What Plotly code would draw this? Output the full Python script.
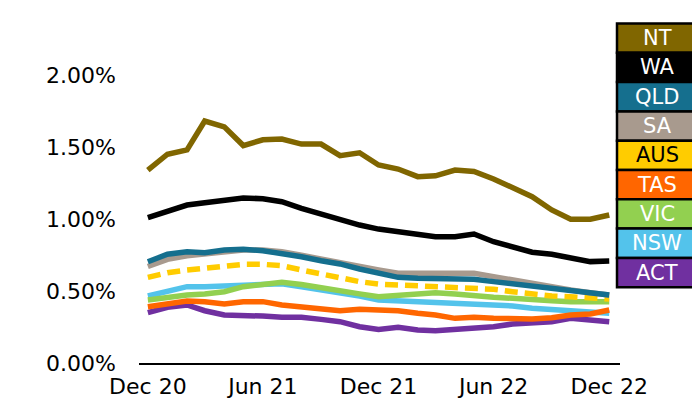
import plotly.graph_objects as go
import pandas as pd

months = pd.date_range("2020-12-01", "2022-12-01", freq="MS")

series_names = ["NT", "WA", "QLD", "SA", "AUS", "TAS", "VIC", "NSW", "ACT"]

NT = [1.34, 1.45, 1.48, 1.68, 1.64, 1.51, 1.55, 1.555, 1.52, 1.52, 1.44, 1.46, 1.375,
      1.347, 1.294, 1.30, 1.34, 1.33, 1.278, 1.218, 1.155, 1.063, 0.998, 0.998, 1.028]
WA = [1.01, 1.056, 1.097, 1.113, 1.127, 1.146, 1.141, 1.12, 1.074, 1.033, 0.993, 0.958, 0.93,
      0.912, 0.896, 0.877, 0.877, 0.896, 0.842, 0.808, 0.769, 0.755, 0.727, 0.704, 0.708]
QLD = [0.703, 0.755, 0.773, 0.766, 0.785, 0.79, 0.78, 0.762, 0.738, 0.71, 0.688, 0.653, 0.62,
       0.595, 0.588, 0.588, 0.588, 0.581, 0.565, 0.549, 0.53, 0.519, 0.507, 0.488, 0.472]
SA = [0.67, 0.72, 0.745, 0.76, 0.775, 0.785, 0.785, 0.772, 0.748, 0.72, 0.695, 0.665, 0.646,
      0.623, 0.623, 0.627, 0.627, 0.623, 0.60, 0.576, 0.549, 0.53, 0.507, 0.488, 0.472]
AUS = [0.595, 0.627, 0.646, 0.657, 0.674, 0.685, 0.685, 0.676, 0.646, 0.618, 0.588, 0.565, 0.548,
       0.542, 0.535, 0.535, 0.53, 0.519, 0.512, 0.495, 0.479, 0.465, 0.46, 0.449, 0.444]
TAS = [0.391, 0.414, 0.43, 0.426, 0.41, 0.426, 0.426, 0.403, 0.387, 0.38, 0.363, 0.373, 0.37,
       0.363, 0.345, 0.333, 0.31, 0.317, 0.31, 0.306, 0.306, 0.315, 0.333, 0.34, 0.368]
VIC = [0.4375, 0.456, 0.472, 0.479, 0.495, 0.53, 0.55, 0.56, 0.545, 0.52, 0.505, 0.48, 0.46,
       0.472, 0.484, 0.488, 0.479, 0.465, 0.456, 0.449, 0.4375, 0.433, 0.426, 0.426, 0.426]
NSW = [0.465, 0.502, 0.53, 0.53, 0.535, 0.54, 0.545, 0.55, 0.53, 0.51, 0.49, 0.465, 0.437,
       0.43, 0.426, 0.426, 0.414, 0.403, 0.396, 0.396, 0.38, 0.373, 0.363, 0.356, 0.345]
ACT = [0.35, 0.387, 0.403, 0.363, 0.333, 0.333, 0.326, 0.317, 0.317, 0.303, 0.287, 0.252, 0.232,
       0.248, 0.229, 0.224, 0.234, 0.241, 0.252, 0.271, 0.276, 0.287, 0.31, 0.299, 0.287]

values = {"NT": NT, "WA": WA, "QLD": QLD, "SA": SA, "AUS": AUS,
          "TAS": TAS, "VIC": VIC, "NSW": NSW, "ACT": ACT}

colors = {"NT": "#806600", "WA": "#000000", "QLD": "#156F8E", "SA": "#A89A8E",
          "AUS": "#FFCC00", "TAS": "#FF6600", "VIC": "#92D050", "NSW": "#53C3EB",
          "ACT": "#7030A0"}
text_colors = {name: ("#000000" if name == "AUS" else "#FFFFFF") for name in series_names}

tick_vals = ["2020-12-01", "2021-06-01", "2021-12-01", "2022-06-01", "2022-12-01"]
tick_text = ["Dec 20", "Jun 21", "Dec 21", "Jun 22", "Dec 22"]
y_tick_vals = [0, 0.5, 1.0, 1.5, 2.0]
y_tick_text = ["0.00%", "0.50%", "1.00%", "1.50%", "2.00%"]

fig = go.Figure()
for name in reversed(series_names):
    fig.add_trace(go.Scatter(
        x=months, y=values[name], mode="lines", name=name,
        line=dict(color=colors[name], width=5.5,
                  dash="13px,7px" if name == "AUS" else "solid"),
        showlegend=False,
    ))

FONT = "DejaVu Sans, Arial, sans-serif"

fig.update_layout(
    width=692, height=408,
    margin=dict(l=139, r=72, t=3, b=45),
    paper_bgcolor="white", plot_bgcolor="white",
    font=dict(family=FONT, size=22, color="#000000"),
    xaxis=dict(
        type="date", range=["2020-11-17", "2022-12-18"],
        tickvals=tick_vals, ticktext=tick_text,
        showgrid=False, zeroline=False, showline=True,
        linecolor="#000000", linewidth=1.5, ticks="",
        ticklabelstandoff=3,
    ),
    yaxis=dict(
        range=[0, 2.5], tickvals=y_tick_vals, ticktext=y_tick_text,
        showgrid=False, zeroline=False, showline=False, ticks="",
        ticklabelstandoff=22,
    ),
)

# legend boxes drawn as shapes + text annotations
box_left_px, box_right_px = 617, 694
box_top_px, box_h_px = 23.5, 29.3
plot_left, plot_w, plot_bottom, plot_h = 139, 481, 363, 360

def px_to_paper_x(px):
    return (px - plot_left) / plot_w

def px_to_paper_y(py):
    return (plot_bottom - py) / plot_h

for i, name in enumerate(series_names):
    top = box_top_px + i * box_h_px
    bot = top + box_h_px
    fig.add_shape(type="rect", xref="paper", yref="paper",
                  x0=px_to_paper_x(box_left_px), x1=px_to_paper_x(box_right_px),
                  y0=px_to_paper_y(bot), y1=px_to_paper_y(top),
                  fillcolor=colors[name], line=dict(color="#000000", width=2.5),
                  layer="above")
    fig.add_annotation(xref="paper", yref="paper",
                       x=px_to_paper_x(657), y=px_to_paper_y((top + bot) / 2),
                       xanchor="center", yanchor="middle", showarrow=False,
                       text=name, font=dict(family=FONT, size=21, color=text_colors[name]))

fig.write_html(
    "out.html",
    config={"displayModeBar": False},
    post_script="document.body.style.margin='0';document.body.style.overflow='hidden';",
)
